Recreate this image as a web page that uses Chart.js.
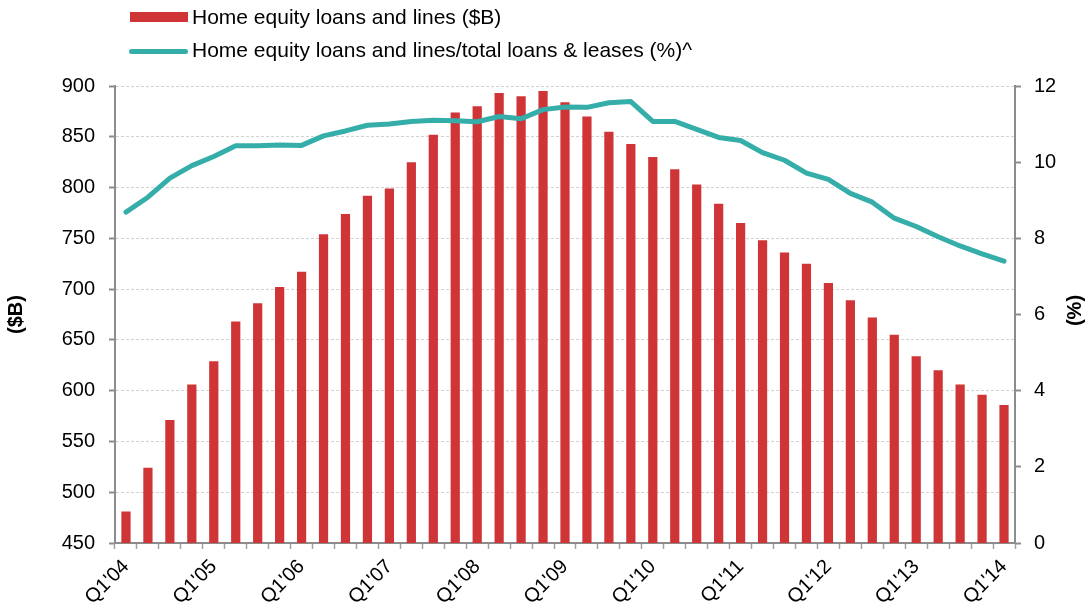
<!DOCTYPE html>
<html>
<head>
<meta charset="utf-8">
<script src="https://cdn.jsdelivr.net/npm/chart.js@4/dist/chart.umd.min.js"></script>
<style>
html,body{margin:0;padding:0;background:#fff;}
#wrap{position:relative;width:1087px;height:607px;overflow:hidden;}
#c{position:absolute;left:0;top:0;}
.lg{position:absolute;font-family:"Liberation Sans",Arial,sans-serif;font-size:21px;line-height:24px;color:#000;white-space:nowrap;}
.sw{position:absolute;}
</style>
</head>
<body>
<div id="wrap">
  <canvas id="c" width="1087" height="607"></canvas>
  <div class="sw" id="sw1" style="left:130px;top:12px;width:58px;height:10px;background:#CF3436;"></div>
  <div class="lg" id="lg1" style="left:192px;top:5px;"></div>
  <div class="sw" id="sw2" style="left:129px;top:49px;width:59px;height:5px;border-radius:3px;background:#35ADA9;"></div>
  <div class="lg" id="lg2" style="left:192px;top:38px;"></div>
</div>
<script>
// ---- data ----
const categories = [
  "Q1'04","Q2'04","Q3'04","Q4'04",
  "Q1'05","Q2'05","Q3'05","Q4'05",
  "Q1'06","Q2'06","Q3'06","Q4'06",
  "Q1'07","Q2'07","Q3'07","Q4'07",
  "Q1'08","Q2'08","Q3'08","Q4'08",
  "Q1'09","Q2'09","Q3'09","Q4'09",
  "Q1'10","Q2'10","Q3'10","Q4'10",
  "Q1'11","Q2'11","Q3'11","Q4'11",
  "Q1'12","Q2'12","Q3'12","Q4'12",
  "Q1'13","Q2'13","Q3'13","Q4'13",
  "Q1'14"
];
const homeEquityB = [
  481, 524, 571, 606,
  629, 668, 686, 702,
  717, 754, 774, 792,
  799, 825, 852, 874,
  880, 893, 890, 895,
  884, 870, 855, 843,
  830, 818, 803, 784,
  765, 748, 736, 725,
  706, 689, 672, 655,
  634, 620, 606, 596,
  586
];
const homeEquityPct = [
  8.69, 9.08, 9.58, 9.91,
  10.15, 10.43, 10.43, 10.45,
  10.44, 10.69, 10.82, 10.97,
  11.00, 11.07, 11.10, 11.09,
  11.06, 11.20, 11.14, 11.38,
  11.45, 11.44, 11.56, 11.59,
  11.07, 11.07, 10.86, 10.65,
  10.57, 10.25, 10.05, 9.71,
  9.55, 9.18, 8.95, 8.53,
  8.31, 8.04, 7.80, 7.59,
  7.40
];
const seriesNames = [
  "Home equity loans and lines ($B)",
  "Home equity loans and lines/total loans & leases (%)^"
];
const leftAxis = { min: 450, max: 900, step: 50, title: "($B)" };
const rightAxis = { min: 0, max: 12, step: 2, title: "(%)" };

document.getElementById('lg1').textContent = seriesNames[0];
document.getElementById('lg2').textContent = seriesNames[1];

const FONT = "'Liberation Sans', Arial, sans-serif";
Chart.defaults.font.family = FONT;
Chart.defaults.color = '#000';

const AXIS = '#8c8c8c';

const rightTitlePlugin = {
  id: 'rightTitle',
  afterDraw(chart) {
    const ctx = chart.ctx;
    const s = chart.scales.y1;
    ctx.save();
    ctx.font = 'bold 20px ' + FONT;
    ctx.fillStyle = '#000';
    ctx.textAlign = 'center';
    ctx.textBaseline = 'middle';
    ctx.translate(1075, (s.top + s.bottom) / 2 - 4);
    ctx.rotate(-Math.PI / 2);
    ctx.fillText(rightAxis.title, 0, 0);
    ctx.restore();
  }
};

new Chart(document.getElementById('c'), {
  type: 'bar',
  data: {
    labels: categories,
    datasets: [
      {
        type: 'line',
        label: seriesNames[1],
        data: homeEquityPct,
        yAxisID: 'y1',
        borderColor: '#35ADA9',
        borderWidth: 5,
        pointRadius: 0,
        tension: 0,
        borderCapStyle: 'round',
        borderJoinStyle: 'round',
        fill: false,
        order: 1
      },
      {
        type: 'bar',
        label: seriesNames[0],
        data: homeEquityB,
        yAxisID: 'y',
        backgroundColor: '#CF3436',
        barPercentage: 0.42,
        categoryPercentage: 1.0,
        order: 2
      }
    ]
  },
  options: {
    responsive: false,
    animation: false,
    layout: { padding: { top: 86, left: 0, right: 0, bottom: 0 } },
    plugins: {
      legend: { display: false },
      tooltip: { enabled: false }
    },
    scales: {
      x: {
        offset: true,
        grid: {
          drawOnChartArea: false,
          drawTicks: true,
          tickLength: 6,
          tickColor: '#a0a0a0',
          tickWidth: 1.5,
          offset: true
        },
        border: { color: AXIS, width: 2 },
        ticks: {
          autoSkip: false,
          maxRotation: 45,
          minRotation: 45,
          padding: 6,
          color: '#000',
          font: { size: 20 },
          callback: function (v, i) {
            const l = categories[i];
            return l.startsWith('Q1') ? l : '';
          }
        },
        afterFit(scale) { scale.height = 64; }
      },
      y: {
        position: 'left',
        min: leftAxis.min,
        max: leftAxis.max,
        ticks: {
          stepSize: leftAxis.step,
          padding: 14,
          color: '#000',
          font: { size: 20 }
        },
        grid: {
          color: '#d2d2d2',
          lineWidth: 1,
          tickLength: 6,
          tickColor: AXIS,
          tickWidth: 2
        },
        border: { color: AXIS, width: 2, dash: [3, 2] },
        title: {
          display: true,
          text: leftAxis.title,
          color: '#000',
          font: { size: 20, weight: 'bold' },
          padding: { top: 4, bottom: 0 }
        },
        afterFit(scale) { scale.width = 115; }
      },
      y1: {
        position: 'right',
        min: rightAxis.min,
        max: rightAxis.max,
        ticks: {
          stepSize: rightAxis.step,
          padding: 13,
          color: '#000',
          font: { size: 20 }
        },
        grid: {
          drawOnChartArea: false,
          tickLength: 6,
          tickColor: AXIS,
          tickWidth: 2
        },
        border: { color: AXIS, width: 2 },
        afterFit(scale) { scale.width = 72; }
      }
    }
  },
  plugins: [rightTitlePlugin]
});
</script>
</body>
</html>
